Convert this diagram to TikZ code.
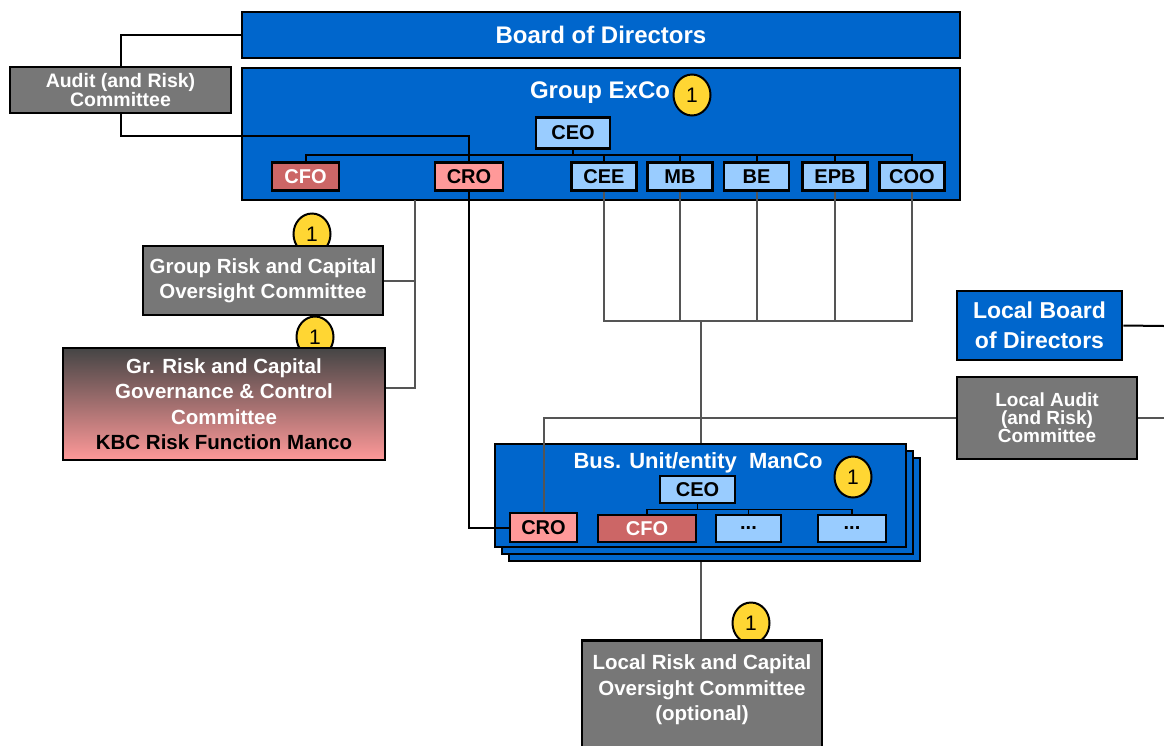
\documentclass[tikz,border=0pt]{standalone}
\usepackage{fontspec}
\setmainfont{Liberation Sans}
\usepackage{tikz}
\usetikzlibrary{shapes.geometric}
\definecolor{kbcblue}{HTML}{0066CC}
\definecolor{lightbox}{HTML}{99CCFF}
\definecolor{crofill}{HTML}{FF9999}
\definecolor{cfofill}{HTML}{CC6666}
\definecolor{cttee}{HTML}{777777}
\definecolor{cttedark}{HTML}{454545}
\definecolor{badgeyellow}{HTML}{FFD633}
\definecolor{linegrey}{HTML}{555555}
\newcommand{\titlefont}{\bfseries\fontsize{24}{26}\selectfont}
\newcommand{\boxfont}{\bfseries\fontsize{20}{22}\selectfont}
\newcommand{\ctteefont}{\bfseries\fontsize{20.5}{25.5}\selectfont}

\begin{document}
\begin{tikzpicture}[x=1pt,y=-1pt,
	box/.style={draw=black,line width=2.5pt,inner sep=0pt,align=center,font=\boxfont},
	bluebox/.style={box,fill=kbcblue,text=white},
	greybox/.style={box,fill=cttee,text=white,font=\ctteefont},
	headbox/.style={box,fill=lightbox,minimum height=28pt},
	crobox/.style={box,fill=crofill,minimum height=28pt},
	cfobox/.style={box,fill=cfofill,text=white,minimum height=28pt},
	badge/.style={ellipse,draw=black,line width=2pt,fill=badgeyellow,inner sep=0pt,
		minimum width=37pt,minimum height=41pt,font=\fontsize{21}{21}\selectfont},
	blackline/.style={draw=black,line width=2pt},
	greyline/.style={draw=linegrey,line width=2pt}]
	\useasboundingbox (0,0) rectangle (1164,745);

	% group level
	\node[bluebox,minimum width=718pt,minimum height=46pt,font=\titlefont] (board) at (601,35) {Board of Directors};
	\node[bluebox,minimum width=718pt,minimum height=132pt] (exco) at (601,134) {};
	\node[font=\titlefont,text=white] (excotitle) at (600,93) {Group ExCo};
	\node[badge] (excobadge) at (692,95) {1};
	\node[greybox,minimum width=221pt,minimum height=46pt,font=\bfseries\fontsize{19.5}{16}\selectfont] (audit) at (120.5,90) {Audit (and Risk)\\Committee};

	\node[headbox,minimum width=74pt,minimum height=31pt] (ceo) at (573,133) {CEO};
	\node[cfobox,minimum width=67pt] (cfo) at (305.5,176.5) {CFO};
	\node[crobox,minimum width=68pt] (cro) at (469,176.5) {CRO};
	\foreach \name/\lbl/\x in {cee/CEE/604,mb/MB/680,be/BE/756.5,epb/EPB/835,coo/COO/912}
		\node[headbox,minimum width=65pt] (\name) at (\x,176.5) {\lbl};

	% group committees
	\node[badge] (grcocbadge) at (312,234) {1};
	\node[greybox,minimum width=240pt,minimum height=69pt] (grcoc) at (263,280.5) {Group Risk and Capital\\Oversight Committee};
	\node[badge] (grgccbadge) at (315,337) {1};
	\node[box,top color=cttedark,bottom color=crofill,text=white,font=\ctteefont,
		minimum width=322pt,minimum height=112pt] (grgcc) at (224,404)
		{Gr. Risk and Capital\\Governance \& Control\\Committee\\\textcolor{black}{KBC Risk Function Manco}};

	% local level
	\node[bluebox,minimum width=165pt,minimum height=69pt,font=\bfseries\fontsize{23}{30}\selectfont] (lbod) at (1039.5,325.5) {Local Board\\of Directors};
	\node[greybox,minimum width=180pt,minimum height=82pt,font=\bfseries\fontsize{19}{18}\selectfont] (laudit) at (1047,418) {Local Audit\\(and Risk)\\Committee};

	\foreach \s/\name in {14/bus3,7/bus2,0/bus}
		\node[bluebox,minimum width=411pt,minimum height=103pt] (\name) at (700.5+\s,495.5+\s) {};
	\node[font=\bfseries\fontsize{22}{24}\selectfont,text=white] (bustitle) at (698,463) {Bus. Unit/entity\ \ ManCo};
	\node[badge] (busbadge) at (853,477) {1};
	\node[headbox,minimum width=75pt,minimum height=27pt] (bceo) at (697.5,489.5) {CEO};
	\node[crobox,minimum width=67pt,minimum height=29pt] (bcro) at (543.5,527.5) {CRO};
	\node[cfobox,minimum width=98pt,minimum height=27pt] (bcfo) at (647,528.5) {CFO};
	\node[headbox,minimum width=65pt,minimum height=27pt] (bdots1) at (748.5,528.5) {...};
	\node[headbox,minimum width=68pt,minimum height=27pt] (bdots2) at (852,528.5) {...};

	\node[badge] (lriskbadge) at (751,623) {1};
	\node[greybox,minimum width=240pt,minimum height=130pt,anchor=north] (lrisk) at (702,639) {};
	\node[text=white,font=\ctteefont,align=center] (lrisktext) at (702,690) {Local Risk and Capital\\Oversight Committee\\(optional)};

	% reporting lines
	\coordinate (riskdrop) at (415,200);
	\coordinate (unitbus) at (700.5,321);
	\coordinate (rimA) at (1164,326);
	\coordinate (rimB) at (1164,418);

	\draw[blackline] (board.west) -| (audit.north);
	\draw[blackline] (audit.south) -- ++(0,22) -| (cro.north);
	\foreach \n in {cfo,cro,cee,mb,be,epb,coo}
		\draw[blackline] (ceo.south) -- ++(0,5) -| (\n.north);
	\draw[greyline] (riskdrop) |- (grcoc.east) (riskdrop) |- ([yshift=16pt]grgcc.east);
	\draw[blackline] (cro.south) |- (bcro.west);
	\foreach \n in {cee,mb,be,epb,coo}
		\draw[greyline] (\n.south) |- (unitbus);
	\draw[greyline] (unitbus) -- (bus.north);
	\draw[greyline] (laudit.west) -| (bcro.north);
	\draw[blackline] (lbod.east) -- (rimA);
	\draw[greyline] (laudit.east) -- (rimB);
	\foreach \n in {bcfo,bdots1,bdots2}
		\draw[blackline,line width=1.5pt] (bceo.south) -- ++(0,5) -| (\n.north);
	\draw[greyline] (bus.south |- bus3.south) -- (bus.south |- lrisk.north);
\end{tikzpicture}
\end{document}
